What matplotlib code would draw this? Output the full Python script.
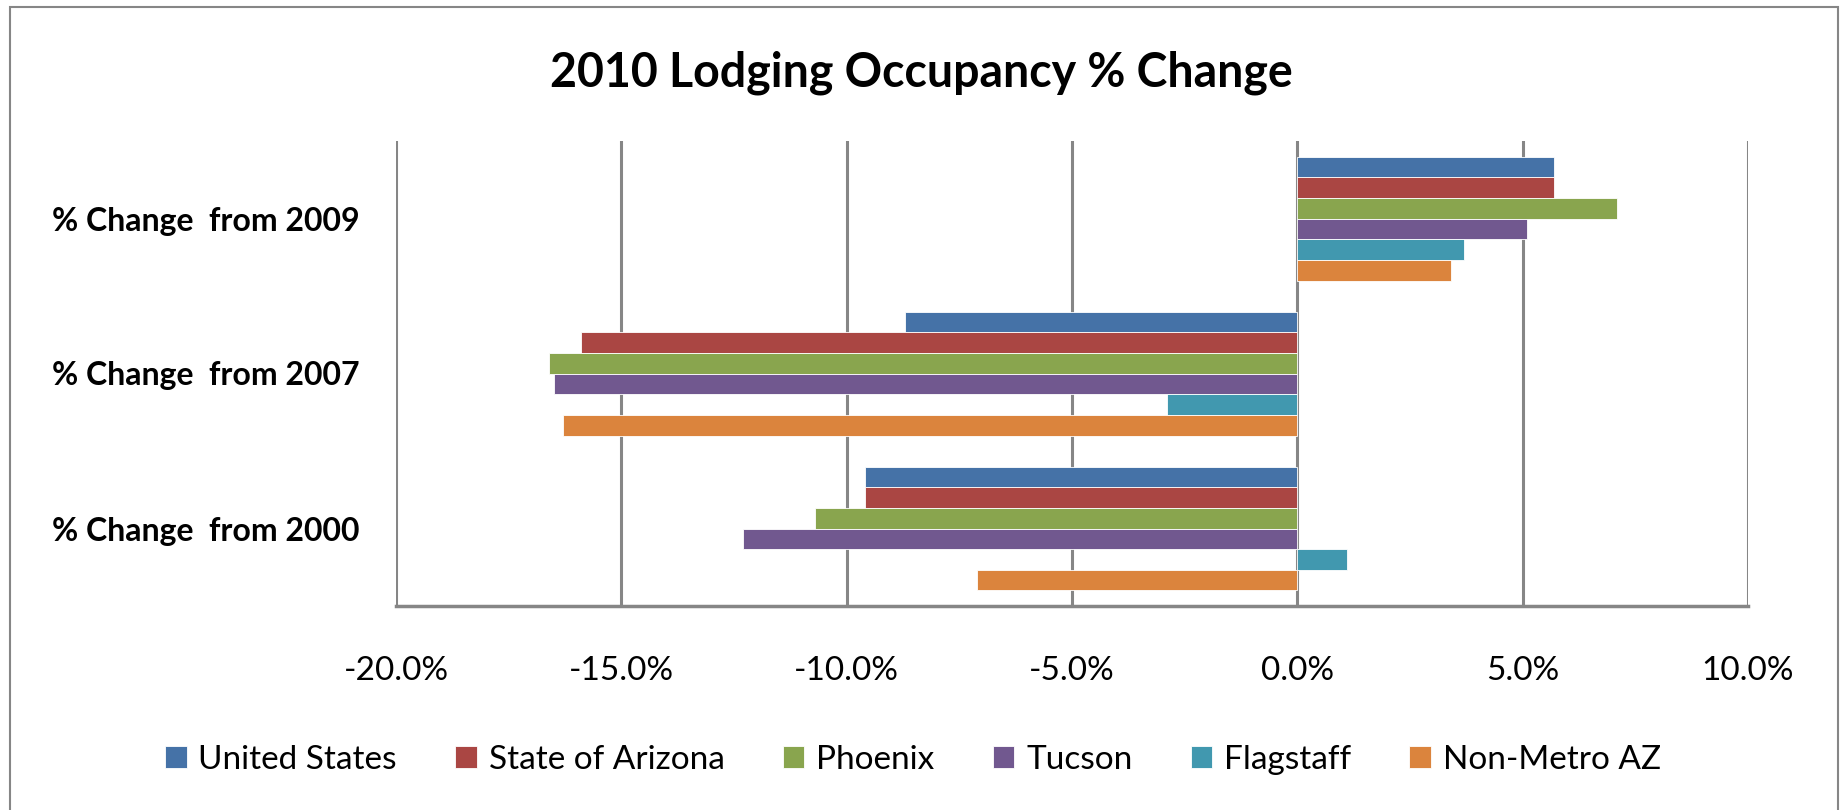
import numpy as np
import matplotlib.pyplot as plt
from matplotlib.patches import Rectangle

# categories (top to bottom) and series (top to bottom within a category)
categories = ['% Change  from 2009', '% Change  from 2007', '% Change  from 2000']
series = ['United States', 'State of Arizona', 'Phoenix', 'Tucson', 'Flagstaff', 'Non-Metro AZ']
colors = ['#4572A7', '#AA4643', '#89A54E', '#71588F', '#4198AF', '#DB843D']

united_states = [5.7, -8.7, -9.6]
state_of_arizona = [5.7, -15.9, -9.6]
phoenix = [7.1, -16.6, -10.7]
tucson = [5.1, -16.5, -12.3]
flagstaff = [3.7, -2.9, 1.1]
non_metro_az = [3.4, -16.3, -7.1]
values = [united_states, state_of_arizona, phoenix, tucson, flagstaff, non_metro_az]

xticks = [-20, -15, -10, -5, 0, 5, 10]

plt.rcParams['font.family'] = ['Lato', 'DejaVu Sans']

fig = plt.figure(figsize=(18.45, 8.1), dpi=100)
ax = fig.add_axes([396 / 1845, 1 - 606 / 810, (1748 - 396) / 1845, (606 - 141) / 810])

# gap width 150% like excel
h = 1 / 7.5
y = np.arange(len(categories))
for j, (name, vals) in enumerate(zip(series, values)):
    ax.barh(y + (j - 2.5) * h, vals, height=h, color=colors[j], label=name,
            edgecolor='white', linewidth=0.6, zorder=3)

ax.set_xlim(-20, 10)
ax.set_ylim(2.5, -0.5)
ax.set_xticks(xticks)
ax.set_xticklabels(['%.1f%%' % t for t in xticks], fontsize=24)
ax.tick_params(axis='x', length=0, pad=36)
ax.set_yticks(y)
ax.set_yticklabels(categories, fontsize=23, fontweight='bold')
ax.tick_params(axis='y', length=0, pad=248)
for lab in ax.get_yticklabels():
    lab.set_horizontalalignment('left')

ax.grid(axis='x', color='#868686', linewidth=2.2, zorder=1)
for s in ['top', 'right', 'left']:
    ax.spines[s].set_visible(False)
ax.spines['bottom'].set_color('#868686')
ax.spines['bottom'].set_linewidth(2.5)

fig.suptitle('2010 Lodging Occupancy % Change', x=921 / 1845, y=1 - 73 / 810,
             va='center', fontsize=33.5, fontweight='bold')

fig.legend(loc='center', bbox_to_anchor=(913 / 1845, 1 - 760 / 810), ncol=6,
           frameon=False, fontsize=24, handlelength=0.65, handleheight=0.65,
           handletextpad=0.35, columnspacing=1.75)

# outer chart border
fig.patches.append(Rectangle((10 / 1845, -0.02), 1828 / 1845, 1 - 7 / 810 + 0.02,
                             transform=fig.transFigure, fill=False,
                             edgecolor='#868686', linewidth=1.5))

fig.savefig('out.png', dpi=100)
